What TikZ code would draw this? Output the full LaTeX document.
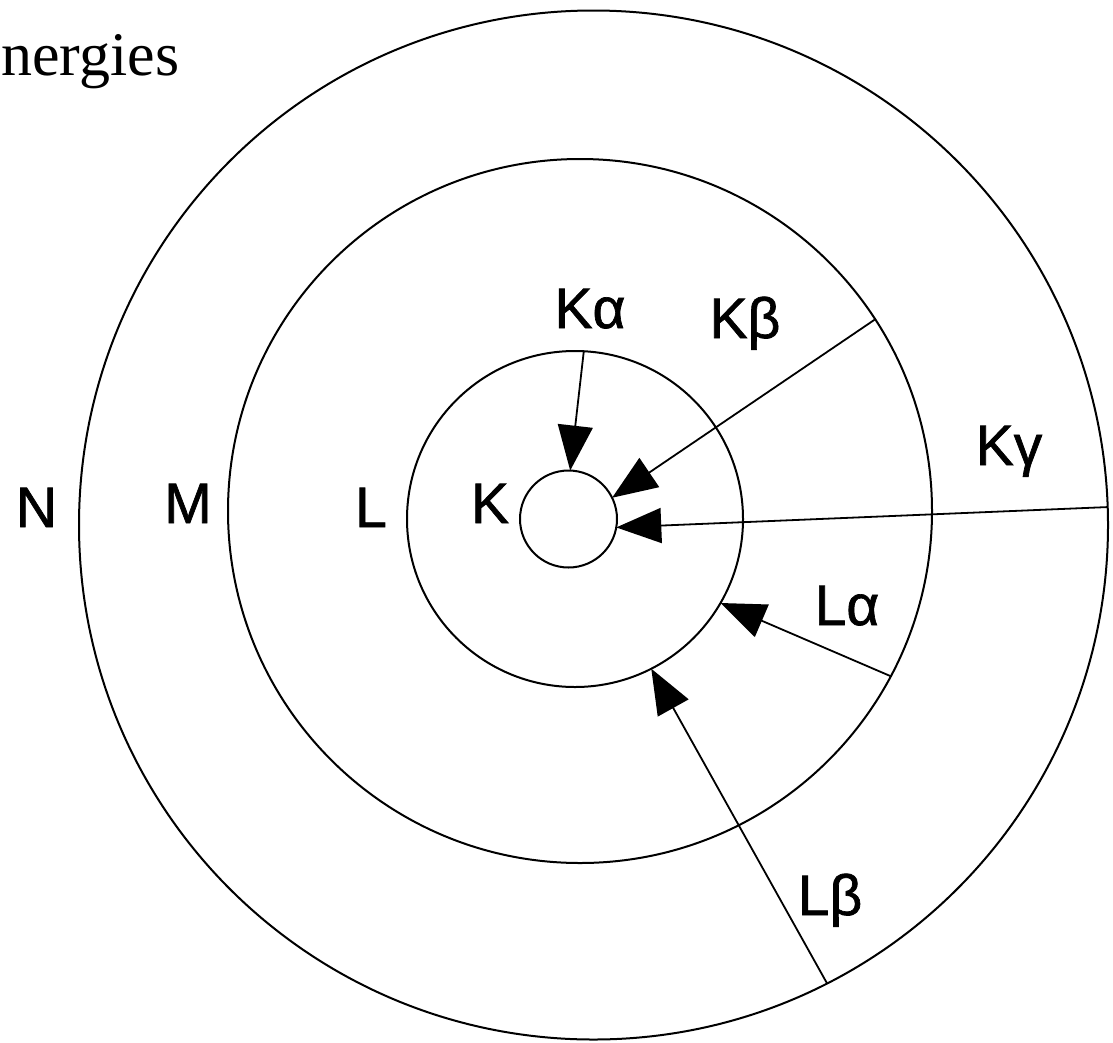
\documentclass[tikz,border=0pt]{standalone}
\usepackage{fontspec}
\setmainfont{Liberation Serif}
\newfontfamily\labelfont[FakeBold=1.2]{Liberation Sans}
\usetikzlibrary{arrows.meta}
\begin{document}
\begin{tikzpicture}[x=1pt,y=-1pt,
  shell/.style={draw, circle, line width=2pt, inner sep=0pt, outer sep=0pt},
  trans/.style={line width=1.8pt, -{Triangle[length=45pt,width=35pt]}},
  lbl/.style={font=\labelfont\fontsize{57}{60}\selectfont, inner sep=0pt, anchor=base}]
\useasboundingbox (0,0) rectangle (1113,1042);
% shells
\node[shell, minimum size=97pt]  (Ks) at (568.5,519) {};
\node[shell, minimum size=336pt] (Ls) at (575,519) {};
\node[shell, minimum size=704pt] (Ms) at (580,511) {};
\node[shell, minimum size=1029pt] (Ns) at (593.5,525) {};
% title fragment
\node[font=\fontsize{62}{68}\selectfont, inner sep=0pt, anchor=base west] (title) at (1,75) {nergies};
% shell labels
\node[lbl] (lN) at (36.5,527) {N};
\node[lbl] (lM) at (188,523) {M};
\node[lbl] (lL) at (371,527) {L};
\node[lbl] (lK) at (490,523) {K};
% transitions
\draw[trans] (Ls.87.3) -- (Ks.88.2);
\draw[trans] (Ms.33.4) -- (Ks.26.8);
\draw[trans] (Ns.2.7) -- (Ks.-10);
\draw[trans] (Ms.-28) -- (Ls.-30.9);
\draw[trans] (Ns.-63.8) -- (Ls.-63.1);
% transition labels
\node[lbl] (tKa) at (590,328) {Kα};
\node[lbl] (tKb) at (745,338) {Kβ};
\node[lbl] (tKg) at (1009,465) {Kγ};
\node[lbl] (tLa) at (847,625) {Lα};
\node[lbl] (tLb) at (830,915) {Lβ};
\end{tikzpicture}
\end{document}
